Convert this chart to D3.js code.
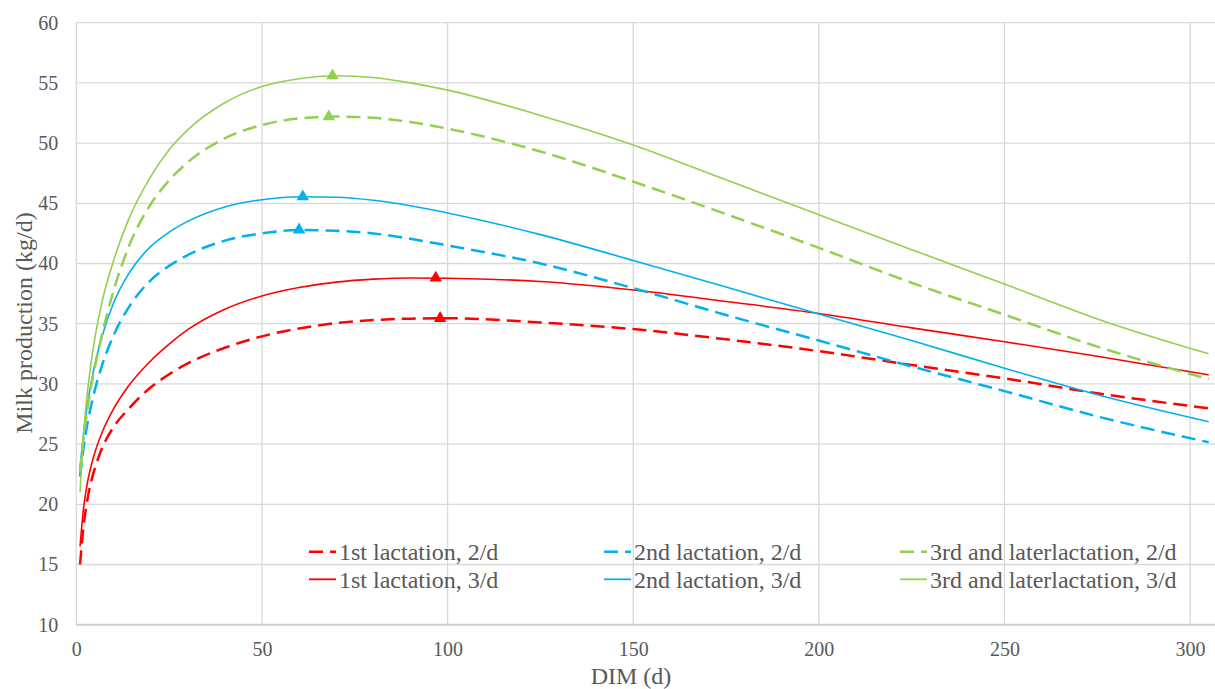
<!DOCTYPE html>
<html>
<head>
<meta charset="utf-8">
<script src="https://cdn.jsdelivr.net/npm/d3@7"></script>
<style>
  html, body { margin: 0; padding: 0; background: #fff; }
  svg { display: block; }
  text { font-family: "Liberation Serif", "Times New Roman", serif; fill: #595959; }
</style>
</head>
<body>
<svg id="chart" width="1215" height="689" font-family="'Liberation Serif', serif"></svg>
<script>
// Days in milk at which each lactation curve is sampled
const dim = [1, 2, 3, 4, 5, 7, 10, 14, 20, 25, 30, 40, 50, 60, 70, 80, 90, 100, 125, 150, 175, 200, 225, 250, 275, 305];

// Milk production (kg/d) by parity and milking frequency
const first2  = [15.0, 18.3, 20.4, 21.9, 23.0, 24.7, 26.4, 27.9, 29.7, 30.8, 31.7, 33.0, 33.95, 34.6, 35.05, 35.3, 35.42, 35.45, 35.1, 34.55, 33.7, 32.72, 31.57, 30.46, 29.22, 27.97];
const first3  = [16.5, 19.8, 21.8, 23.2, 24.3, 26.0, 27.9, 29.8, 31.9, 33.3, 34.5, 36.2, 37.3, 38.0, 38.45, 38.7, 38.8, 38.78, 38.5, 37.8, 36.85, 35.85, 34.65, 33.5, 32.3, 30.75];
const second2 = [22.3, 24.8, 26.7, 28.2, 29.5, 31.6, 34.0, 36.3, 38.6, 39.8, 40.7, 41.9, 42.5, 42.78, 42.72, 42.5, 42.05, 41.5, 40.0, 37.95, 35.72, 33.6, 31.45, 29.4, 27.3, 25.15];
const second3 = [23.0, 26.0, 28.3, 30.1, 31.6, 34.0, 36.7, 39.1, 41.4, 42.6, 43.5, 44.7, 45.3, 45.55, 45.5, 45.25, 44.8, 44.2, 42.4, 40.25, 38.05, 35.8, 33.6, 31.3, 29.1, 26.86];
const third2  = [22.7, 25.6, 27.9, 29.8, 31.4, 34.2, 37.7, 41.3, 44.9, 46.9, 48.4, 50.4, 51.5, 52.05, 52.2, 52.1, 51.75, 51.2, 49.3, 46.8, 44.1, 41.3, 38.4, 35.75, 33.1, 30.4];
const third3  = [21.0, 26.0, 29.3, 31.8, 33.8, 36.9, 40.2, 43.6, 47.2, 49.45, 51.1, 53.35, 54.7, 55.35, 55.6, 55.45, 55.0, 54.4, 52.3, 49.85, 46.95, 44.05, 41.15, 38.3, 35.4, 32.5];

// Peak day and peak yield for each curve (same order as seriesNames)
const peakDim  = [98, 96.8, 60, 61, 68, 69];
const peakMilk = [35.45, 38.8, 42.8, 45.55, 52.2, 55.6];

const seriesNames = [
  "1st lactation, 2/d", "1st lactation, 3/d",
  "2nd lactation, 2/d", "2nd lactation, 3/d",
  "3rd and laterlactation, 2/d", "3rd and laterlactation, 3/d"
];
const seriesValues = [first2, first3, second2, second3, third2, third3];

const xTicks = [0, 50, 100, 150, 200, 250, 300];
const yTicks = [10, 15, 20, 25, 30, 35, 40, 45, 50, 55, 60];

// Styling
const colors = ["#FF0000", "#FF0000", "#00B0F0", "#00B0F0", "#92D050", "#92D050"];
const dashed = [true, false, true, false, true, false];
const FONT = "'Liberation Serif', 'Times New Roman', serif";

const svg = d3.select("#chart");
const W = 1215, H = 689;
const plot = { left: 76.3, right: 1215, top: 22.7, bottom: 624.7 };

const x = d3.scaleLinear().domain([0, 306.7]).range([plot.left, plot.right]);
const y = d3.scaleLinear().domain([10, 60]).range([plot.bottom, plot.top]);

svg.append("rect").attr("width", W).attr("height", H).attr("fill", "#fff");

// Gridlines
const grid = svg.append("g").attr("class", "grid");
grid.selectAll("line.h").data(yTicks).join("line")
  .attr("class", "h")
  .attr("x1", plot.left).attr("x2", plot.right)
  .attr("y1", d => y(d)).attr("y2", d => y(d))
  .attr("stroke", "#D9D9D9").attr("stroke-width", 1.3);
grid.selectAll("line.v").data(xTicks).join("line")
  .attr("class", "v")
  .attr("x1", d => x(d)).attr("x2", d => x(d))
  .attr("y1", plot.top).attr("y2", plot.bottom)
  .attr("stroke", "#D9D9D9").attr("stroke-width", 1.3);

// Axis baseline
svg.append("line")
  .attr("x1", plot.left).attr("x2", plot.right)
  .attr("y1", y(10)).attr("y2", y(10))
  .attr("stroke", "#D0D0D0").attr("stroke-width", 2);

// Tick labels
const yAxis = svg.append("g")
  .attr("transform", `translate(${plot.left},0)`)
  .call(d3.axisLeft(y).tickValues(yTicks).tickSize(0).tickPadding(18).tickFormat(d3.format("d")));
yAxis.attr("font-family", FONT);
yAxis.select(".domain").remove();
yAxis.selectAll("text").style("font-size", "20px").style("font-family", FONT).attr("fill", "#595959");

const xAxis = svg.append("g")
  .attr("transform", `translate(0,${plot.bottom})`)
  .call(d3.axisBottom(x).tickValues(xTicks).tickSize(0).tickPadding(17).tickFormat(d3.format("d")));
xAxis.attr("font-family", FONT);
xAxis.select(".domain").remove();
xAxis.selectAll("text").style("font-size", "20px").style("font-family", FONT).attr("fill", "#595959");

// Axis titles
svg.append("text")
  .attr("x", 631).attr("y", 684)
  .attr("text-anchor", "middle")
  .style("font-family", FONT)
  .style("font-size", "24px")
  .text("DIM (d)");
svg.append("text")
  .attr("transform", "translate(32,323) rotate(-90)")
  .attr("text-anchor", "middle")
  .style("font-family", FONT)
  .style("font-size", "24px")
  .text("Milk production (kg/d)");

// Lactation curves
const line = d3.line()
  .x((d, i) => x(dim[i]))
  .y(d => y(d))
  .curve(d3.curveMonotoneX);

const curves = svg.append("g").attr("class", "curves");
seriesValues.forEach((vals, k) => {
  curves.append("path")
    .datum(vals)
    .attr("d", line)
    .attr("fill", "none")
    .attr("stroke", colors[k])
    .attr("stroke-width", dashed[k] ? 2.5 : 1.6)
    .attr("stroke-dasharray", dashed[k] ? "14,7" : null)
    .attr("stroke-linecap", "butt");
});

// Peak markers
const tri = d3.symbol().type(d3.symbolTriangle).size(68);
svg.append("g").selectAll("path").data(peakDim).join("path")
  .attr("d", tri)
  .attr("transform", (d, i) => `translate(${x(d)},${y(peakMilk[i])})`)
  .attr("fill", (d, i) => colors[i]);

// Legend: two rows (2/d, 3/d), three columns (parity)
const legendCols = [309, 604, 900];
const legendRows = [551.7, 579.3];
const legend = svg.append("g").attr("class", "legend");
seriesNames.forEach((name, k) => {
  const col = Math.floor(k / 2), row = k % 2;
  const lx = legendCols[col], ly = legendRows[row];
  legend.append("line")
    .attr("x1", lx).attr("x2", lx + 27)
    .attr("y1", ly).attr("y2", ly)
    .attr("stroke", colors[k])
    .attr("stroke-width", dashed[k] ? 2.5 : 1.8)
    .attr("stroke-dasharray", dashed[k] ? "14,7" : null);
  legend.append("text")
    .attr("x", lx + 30).attr("y", ly)
    .attr("dy", "0.35em")
    .style("font-family", FONT)
    .style("font-size", "24px")
    .text(name);
});
</script>
</body>
</html>
